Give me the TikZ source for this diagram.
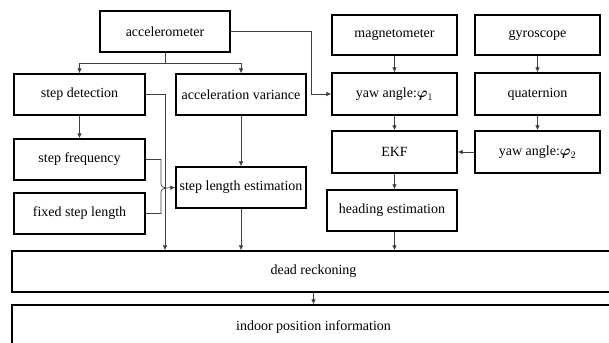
\documentclass[tikz,border=0pt]{standalone}
\usepackage{amsmath}
\usepackage{fontspec}
\setmainfont{Liberation Serif}
\usetikzlibrary{arrows.meta}
\begin{document}
\begin{tikzpicture}[x=1pt,y=-1pt,
  box/.style={draw,line width=1.4pt,inner sep=0pt,font=\fontsize{14}{16}\selectfont},
  conn/.style={draw=black!75,line width=0.7pt,-{Latex[length=5pt,width=4.5pt]}},
  plain/.style={draw=black!75,line width=0.7pt}]
\useasboundingbox (0,0) rectangle (609,342);
\clip (0,0) rectangle (609,342);
\fill[white] (0,0) rectangle (609,342);
\node[box,minimum width=130pt,minimum height=41pt] (acc) at (165,31.5) {accelerometer};
\node[box,minimum width=131pt,minimum height=41pt] (sd) at (79.5,94.5) {step detection};
\node[box,minimum width=130pt,minimum height=41pt] (av) at (241,94.5) {acceleration variance};
\node[box,minimum width=131pt,minimum height=41pt] (sf) at (79.5,159.5) {step frequency};
\node[box,minimum width=131pt,minimum height=41pt] (fsl) at (79.5,213.5) {fixed step length};
\node[box,minimum width=130pt,minimum height=41pt] (sle) at (241,187.5) {step length estimation};
\node[box,minimum width=125pt,minimum height=40pt] (mag) at (394.5,35) {magnetometer};
\node[box,minimum width=125pt,minimum height=40pt] (gyr) at (537.5,35) {gyroscope};
\node[box,minimum width=125pt,minimum height=42pt] (y1) at (394.5,94) {yaw angle:$\boldsymbol{\varphi}_1$};
\node[box,minimum width=125pt,minimum height=42pt] (q) at (537.5,94) {quaternion};
\node[box,minimum width=125pt,minimum height=42pt] (ekf) at (394.5,152) {EKF};
\node[box,minimum width=125pt,minimum height=42pt] (y2) at (537.5,152) {yaw angle:$\boldsymbol{\varphi}_2$};
\node[box,minimum width=130pt,minimum height=41pt] (he) at (392,210.5) {heading estimation};
\node[box,minimum width=603pt,minimum height=41pt] (dr) at (313.5,271.5) {dead reckoning};
\node[box,minimum width=603pt,minimum height=44pt] (ip) at (313.5,327) {indoor position information};
% connectors
\coordinate (split) at (165,63);
\coordinate (x165) at (165,0);
\draw[plain] (acc.south) -- (split);
\draw[conn] (split) -| (sd.north);
\draw[conn] (split) -| (av.north);
\coordinate (accr) at (311,31.5);
\draw[conn] (acc.east) -- (accr) |- (y1.west);
\draw[conn] (sd.east) -| (x165 |- dr.north);
\draw[conn] (sd.south) -- (sf.north);
\coordinate (j) at (166,188);
\draw[plain] (sf.east) -| (161,183) .. controls (161,186.5) and (163,188) .. (j);
\draw[plain] (fsl.east) -| (161,193) .. controls (161,189.5) and (163,188) .. (j);
\draw[conn] (j) -- (sle.west);
\draw[conn] (av.south) -- (sle.north);
\draw[conn] (sle.south) -- (sle.south |- dr.north);
\draw[conn] (mag.south) -- (y1.north);
\draw[conn] (gyr.south) -- (q.north);
\draw[conn] (y1.south) -- (ekf.north);
\draw[conn] (q.south) -- (y2.north);
\draw[conn] (y2.west) -- (ekf.east);
\draw[conn] (ekf.south) -- (ekf.south |- he.north);
\draw[conn] (ekf.south |- he.south) -- (ekf.south |- dr.north);
\draw[conn] (dr.south) -- (ip.north);
\end{tikzpicture}
\end{document}
